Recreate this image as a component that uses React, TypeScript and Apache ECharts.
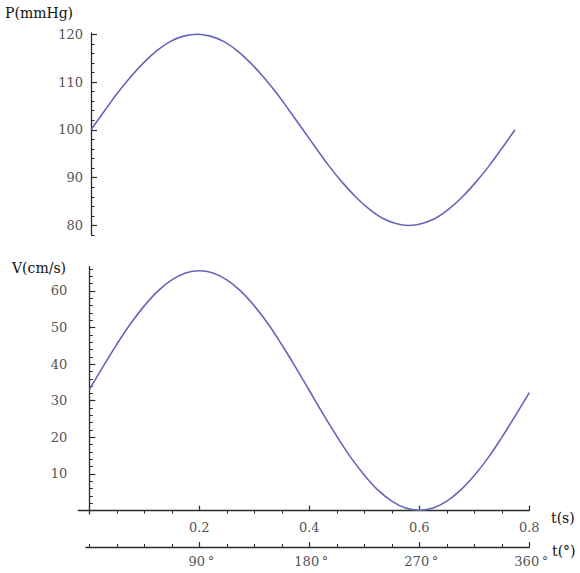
import { useEffect, useRef } from 'react'
import * as echarts from 'echarts'

// time in seconds, one sample every 0.025 s
const tSec = [
  0, 0.025, 0.05, 0.075, 0.1, 0.125, 0.15, 0.175, 0.2, 0.225, 0.25, 0.275, 0.3, 0.325, 0.35, 0.375, 0.4,
  0.425, 0.45, 0.475, 0.5, 0.525, 0.55, 0.575, 0.6, 0.625, 0.65, 0.675, 0.7, 0.725, 0.75, 0.775, 0.8,
]

// P (mmHg)
const pressure = [
  100, 103.9, 107.7, 111.1, 114.1, 116.6, 118.5, 119.6, 120, 119.6, 118.5, 116.6, 114.1, 111.1, 107.7, 103.9, 100,
  96.1, 92.3, 88.9, 85.9, 83.4, 81.5, 80.4, 80, 80.4, 81.5, 83.4, 85.9, 88.9, 92.3, 96.1, 100,
]

// V (cm/s)
const velocity = [
  33.0, 39.3, 45.4, 51.0, 55.9, 60.0, 63.0, 64.9, 65.5, 64.9, 63.0, 60.0, 55.9, 51.0, 45.3, 39.2, 32.8,
  26.4, 20.3, 14.6, 9.7, 5.6, 2.6, 0.7, 0.1, 0.7, 2.6, 5.6, 9.6, 14.4, 20.0, 26.0, 32.2,
]

// tick values
const pTicks = [80, 90, 100, 110, 120]
const pMinorTicks = [78, 82, 84, 86, 88, 92, 94, 96, 98, 102, 104, 106, 108, 112, 114, 116, 118]
const vTicks = [10, 20, 30, 40, 50, 60]
const vMinorTicks = [2, 4, 6, 8, 12, 14, 16, 18, 22, 24, 26, 28, 32, 34, 36, 38, 42, 44, 46, 48, 52, 54, 56, 58, 62, 64, 66]
const tTicks = [0.2, 0.4, 0.6, 0.8]
const tMinorTicks = [0.05, 0.1, 0.15, 0.25, 0.3, 0.35, 0.45, 0.5, 0.55, 0.65, 0.7, 0.75]
const degTicks = [90, 180, 270, 360]
const degMinorTicks = [0, 22.5, 45, 67.5, 112.5, 135, 157.5, 202.5, 225, 247.5, 292.5, 315, 337.5]

const FONT = '"DejaVu Serif", "Liberation Serif", serif'
const AXIS = '#2a2a2a'
const LABEL = '#555555'
const CURVE = '#6666b8'

const majorTick = (values: number[], len = 6) => ({
  show: true,
  inside: true,
  length: len,
  customValues: values,
  lineStyle: { color: AXIS, width: 1.2 },
})

const minorTick = (values: number[], len = 3.5) => ({
  show: true,
  inside: true,
  length: len,
  customValues: values,
  lineStyle: { color: AXIS, width: 1 },
})

const labelStyle = {
  color: LABEL,
  fontFamily: FONT,
  fontSize: 13,
}

export default function App() {
  const chartRef = useRef<HTMLDivElement>(null)

  useEffect(() => {
    if (!chartRef.current) return
    const chart = echarts.init(chartRef.current, null, { renderer: 'svg' })

    const option: any = {
      animation: false,
      grid: [
        { left: 91, top: 33, width: 424, height: 202, outerBoundsMode: 'none' },
        { left: 78.3, top: 266.7, width: 451, height: 247.2, outerBoundsMode: 'none' },
        { left: 86, top: 540, width: 443.3, height: 7, outerBoundsMode: 'none' },
      ],
      xAxis: [
        // top panel, hidden time axis
        { type: 'value', gridIndex: 0, min: 0, max: 0.8, show: false },
        // bottom panel, t(s)
        {
          type: 'value',
          gridIndex: 1,
          min: -0.02,
          max: 0.8,
          axisLine: { show: true, onZero: true, onZeroAxisIndex: 2, lineStyle: { color: AXIS, width: 1.3 } },
          axisTick: majorTick(tTicks, 5),
          axisLabel: { ...labelStyle, customValues: tTicks, margin: 7 },
          splitLine: { show: false },
        },
        {
          type: 'value',
          gridIndex: 1,
          min: -0.02,
          max: 0.8,
          axisLine: { show: false, onZero: true, onZeroAxisIndex: 3 },
          axisTick: minorTick(tMinorTicks, 3),
          axisLabel: { show: false },
          splitLine: { show: false },
        },
        // degrees axis
        {
          type: 'value',
          gridIndex: 2,
          position: 'bottom',
          min: -2.7,
          max: 360,
          axisLine: { show: true, onZero: false, lineStyle: { color: AXIS, width: 1.3 } },
          axisTick: majorTick(degTicks, 5),
          axisLabel: {
            ...labelStyle,
            customValues: degTicks,
            margin: 8,
            padding: [0, 0, 0, 4],
            formatter: (v: number) => `${v}\u2009°`,
          },
          splitLine: { show: false },
        },
        {
          type: 'value',
          gridIndex: 2,
          position: 'bottom',
          min: -2.7,
          max: 360,
          axisLine: { show: false, onZero: false },
          axisTick: minorTick(degMinorTicks, 3),
          axisLabel: { show: false },
          splitLine: { show: false },
        },
      ],
      yAxis: [
        // P(mmHg)
        {
          type: 'value',
          gridIndex: 0,
          position: 'left',
          min: 78,
          max: 120.25,
          axisLine: { show: true, onZero: false, lineStyle: { color: AXIS, width: 1.3 } },
          axisTick: majorTick(pTicks, 6),
          axisLabel: { ...labelStyle, customValues: pTicks, margin: 8 },
          splitLine: { show: false },
        },
        {
          type: 'value',
          gridIndex: 0,
          position: 'left',
          min: 78,
          max: 120.25,
          axisLine: { show: false, onZero: false },
          axisTick: minorTick(pMinorTicks, 3.5),
          axisLabel: { show: false },
          splitLine: { show: false },
        },
        // V(cm/s)
        {
          type: 'value',
          gridIndex: 1,
          position: 'left',
          min: -0.9,
          max: 66.6,
          axisLine: { show: true, onZero: true, onZeroAxisIndex: 1, lineStyle: { color: AXIS, width: 1.3 } },
          axisTick: majorTick(vTicks, 6),
          axisLabel: { ...labelStyle, customValues: vTicks, margin: 11 },
          splitLine: { show: false },
        },
        {
          type: 'value',
          gridIndex: 1,
          position: 'left',
          min: -0.9,
          max: 66.6,
          axisLine: { show: false, onZero: true, onZeroAxisIndex: 2 },
          axisTick: minorTick(vMinorTicks, 3.5),
          axisLabel: { show: false },
          splitLine: { show: false },
        },
        { type: 'value', gridIndex: 2, min: 0, max: 1, show: false },
      ],
      graphic: [
        {
          type: 'text',
          x: 5,
          y: 13,
          style: { text: 'P(mmHg)', fill: '#111', font: `14px ${FONT}`, verticalAlign: 'middle' },
        },
        {
          type: 'text',
          x: 12,
          y: 268,
          style: { text: 'V(cm/s)', fill: '#111', font: `14px ${FONT}`, verticalAlign: 'middle' },
        },
        {
          type: 'text',
          x: 551,
          y: 518,
          style: { text: 't(s)', fill: '#111', font: `14px ${FONT}`, verticalAlign: 'middle' },
        },
        {
          type: 'text',
          x: 552,
          y: 551,
          style: { text: 't(°)', fill: '#111', font: `14px ${FONT}`, verticalAlign: 'middle' },
        },
      ],
      series: [
        {
          name: 'P',
          type: 'line',
          xAxisIndex: 0,
          yAxisIndex: 0,
          data: tSec.map((t, i) => [t, pressure[i]]),
          showSymbol: false,
          smooth: 0.4,
          lineStyle: { color: CURVE, width: 1.6 },
        },
        {
          name: 'V',
          type: 'line',
          xAxisIndex: 1,
          yAxisIndex: 2,
          data: tSec.map((t, i) => [t, velocity[i]]),
          showSymbol: false,
          smooth: 0.4,
          lineStyle: { color: CURVE, width: 1.6 },
        },
      ],
    }

    chart.setOption(option)

    return () => {
      chart.dispose()
    }
  }, [])

  return (
    <div
      ref={chartRef}
      style={{ position: 'fixed', left: 0, top: 0, width: '580px', height: '573px', background: '#fff' }}
    />
  )
}
